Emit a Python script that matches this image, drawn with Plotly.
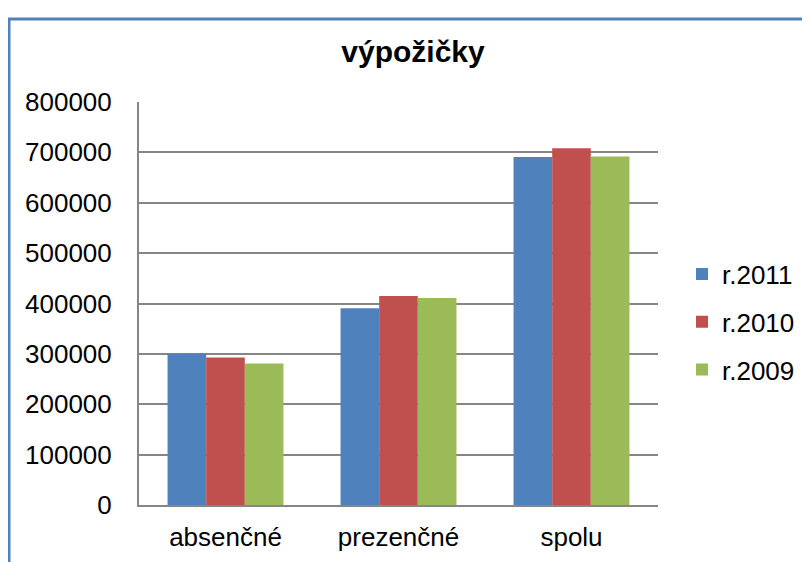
import plotly.graph_objects as go

# categories and series
categories = ["absenčné", "prezenčné", "spolu"]
series_names = ["r.2011", "r.2010", "r.2009"]
r2011 = [300500, 390500, 691000]
r2010 = [293000, 415000, 708000]
r2009 = [281000, 411000, 692000]
y_ticks = [0, 100000, 200000, 300000, 400000, 500000, 600000, 700000, 800000]

colors = ["#4F81BD", "#C0504D", "#9BBB59"]

fig = go.Figure()
for name, vals, c in zip(series_names, [r2011, r2010, r2009], colors):
    fig.add_trace(go.Bar(x=categories, y=vals, name=name, legendgroup=name,
                         marker=dict(color=c, line=dict(width=0))))

# plot area in figure coords (page has an 8px body offset)
L, R, T, B = 131, 160, 94, 65
pw, ph = 810 - L - R, 562 - T - B

fig.update_layout(
    width=810, height=562,
    margin=dict(l=L, r=R, t=T, b=B),
    paper_bgcolor="white", plot_bgcolor="white",
    font=dict(family="Liberation Sans, Arial", size=26, color="black"),
    title=dict(text="<b>výpožičky</b>", x=405 / 810, xanchor="center",
               y=1 - 43 / 562, yanchor="middle", font=dict(size=30)),
    barmode="group", bargap=0.33, bargroupgap=0,
    legend=dict(x=(674 - L) / pw, xanchor="left", y=1 - (314 - T) / ph, yanchor="middle",
                font=dict(size=26), tracegroupgap=11, bgcolor="rgba(0,0,0,0)"),
    showlegend=True,
)
fig.update_xaxes(showline=True, linecolor="#868686", linewidth=2, ticks="",
                 tickfont=dict(size=26), ticklabelstandoff=8)
fig.update_yaxes(range=[0, 800000], tickvals=y_ticks, ticktext=[str(v) for v in y_ticks],
                 showgrid=True, gridcolor="#868686", gridwidth=1.5,
                 showline=True, linecolor="#868686", linewidth=2,
                 ticks="", zeroline=False, tickfont=dict(size=26), ticklabelstandoff=20)

# blue chart border (left and top edges visible)
fig.add_shape(type="rect", xref="paper", yref="paper",
              x0=(1 - L) / pw, x1=(830 - L) / pw,
              y0=-(B + 30) / ph, y1=1 + (T - 11) / ph,
              line=dict(color="#4F81BD", width=3), layer="below")

fig.write_html("out.html")
